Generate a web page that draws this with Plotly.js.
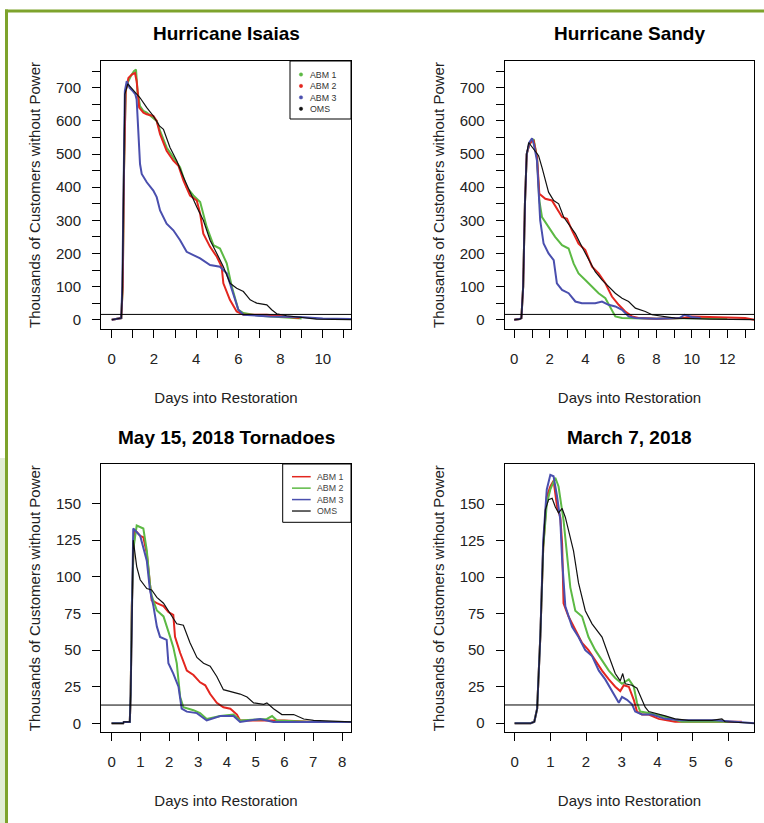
<!DOCTYPE html>
<html><head><meta charset="utf-8">
<script src="https://cdn.plot.ly/plotly-3.0.1.min.js"></script>
<style>html,body{margin:0;padding:0;background:#fff;}#chart{width:764px;height:823px;}</style>
</head><body><div id="chart"></div>
<script>
// ---------- DATA (days into restoration, thousands of customers without power) ----------
// Hurricane Isaias
const isaiasOmsX  = [0,0.3,0.45,0.5,0.55,0.62,0.76,1.0,1.34,1.66,1.97,2.26,2.45,2.76,3.08,3.4,3.71,4.03,4.34,4.66,4.98,5.29,5.61,5.92,6.24,6.56,6.87,7.35,7.58,7.82,8.29,8.93,9.7,11.34];
const isaiasOmsY  = [0,2,5,80,400,680,712,695,670,640,615,585,575,520,480,430,385,340,300,240,200,160,110,95,85,60,50,45,30,18,12,7,2,0];
const isaiasAbm1X = [0,0.3,0.45,0.52,0.58,0.66,0.75,0.9,1.05,1.15,1.22,1.34,1.5,1.66,1.97,2.13,2.29,2.6,2.92,3.24,3.55,3.87,4.19,4.5,4.82,5.13,5.45,5.69,6.0,6.24,7.0,8.1,9.0];
const isaiasAbm1Y = [0,2,5,100,450,690,715,735,750,755,690,645,630,625,610,600,570,520,490,460,400,375,355,280,225,215,170,100,30,20,12,8,4];
const isaiasAbm2X = [0,0.3,0.45,0.52,0.58,0.66,0.79,0.95,1.1,1.18,1.3,1.5,1.66,1.97,2.13,2.29,2.6,2.92,3.16,3.4,3.71,4.03,4.19,4.34,4.66,4.98,5.21,5.29,5.6,5.92,6.24,7.35,8.1,8.9];
const isaiasAbm2Y = [0,2,5,100,450,690,730,740,745,720,640,625,620,615,600,560,510,480,465,420,375,360,320,260,220,190,160,110,60,25,15,15,10,5];
const isaiasAbm3X = [0,0.3,0.45,0.5,0.56,0.62,0.71,0.85,1.0,1.12,1.18,1.25,1.34,1.42,1.66,1.97,2.13,2.29,2.6,2.92,3.24,3.55,3.87,4.19,4.66,5.13,5.45,5.77,6.0,6.24,7.5,8.9,10,11.34];
const isaiasAbm3Y = [0,2,5,100,500,690,720,700,690,680,665,560,470,440,415,390,370,330,290,270,240,205,195,185,165,160,140,80,30,15,10,8,4,2];
// Hurricane Sandy
const sandyOmsX  = [0,0.3,0.4,0.5,0.6,0.7,0.81,0.95,1.09,1.37,1.56,1.75,1.93,2.22,2.5,2.78,3.06,3.44,3.81,4.19,4.56,4.94,5.31,5.69,6.07,6.44,6.82,7.38,7.76,8.32,9.07,11,13.52];
const sandyOmsY  = [0,2,5,100,350,500,535,525,515,495,460,420,385,360,350,310,290,260,220,180,145,120,100,80,65,55,35,25,15,10,5,2,0];
const sandyAbm1X = [0,0.3,0.4,0.5,0.6,0.7,0.85,1.0,1.09,1.28,1.41,1.56,1.93,2.3,2.69,3.06,3.34,3.62,4.0,4.38,4.75,5.13,5.5,5.69,6.07,8,10,12];
const sandyAbm1Y = [0,2,5,100,350,500,530,540,545,490,360,310,280,250,225,215,170,140,120,100,80,65,30,10,5,3,5,3];
const sandyAbm2X = [0,0.3,0.4,0.5,0.6,0.7,0.85,1.0,1.09,1.28,1.41,1.75,2.12,2.4,2.69,2.97,3.25,3.62,4.0,4.38,4.75,5.13,5.5,5.88,6.25,6.63,7.0,8,9.5,10,11,12,13,13.52];
const sandyAbm2Y = [0,2,5,100,350,500,530,540,540,490,380,365,360,335,310,305,270,230,210,160,140,110,70,45,25,10,5,3,5,10,8,6,5,0];
const sandyAbm3X = [0,0.3,0.4,0.5,0.6,0.7,0.85,1.0,1.1,1.28,1.46,1.65,1.93,2.22,2.4,2.69,3.06,3.44,3.81,4.56,4.94,5.31,5.69,6.07,6.44,6.82,8,9.3,9.6,10,10.5];
const sandyAbm3Y = [0,2,5,100,350,500,535,548,530,480,300,230,200,180,110,90,80,55,50,50,55,45,40,30,10,5,3,5,15,8,5];
// May 15, 2018 Tornadoes
const tornOmsX  = [0,0.4,0.42,0.63,0.66,0.7,0.75,0.87,0.99,1.22,1.39,1.57,1.8,2.03,2.26,2.49,2.72,2.96,3.19,3.42,3.65,3.88,4.23,4.46,4.7,4.93,5.28,5.39,5.62,5.91,6.32,6.67,7.01,8.31];
const tornOmsY  = [0,0,1,1,20,80,125,107,98,92,91,86,82,75,68,67,55,45,41,39,32,23,21,20,18,14,13,14,10,6,6,3,2,1];
const tornAbm1X = [0,0.4,0.42,0.63,0.66,0.7,0.76,0.81,0.99,1.1,1.22,1.33,1.39,1.57,1.8,1.97,2.14,2.2,2.38,2.61,2.84,3.07,3.25,3.42,3.65,3.88,4.12,4.35,4.46,5,6,7,8.31];
const tornAbm1Y = [0,0,1,1,20,80,120,132,128,127,116,95,84,82,80,76,74,59,48,36,33,28,26,20,14,11,10,6,2,2,2,1,1];
const tornAbm2X = [0,0.4,0.42,0.63,0.66,0.7,0.76,0.87,1.1,1.22,1.33,1.39,1.57,1.8,2.03,2.14,2.26,2.38,2.49,2.84,3.07,3.3,3.77,4.23,4.46,5.39,5.57,5.74,7,8.31];
const tornAbm2Y = [0,0,1,1,20,80,120,135,133,118,95,87,77,73,59,52,41,18,11,9,7,3,5,6,2,3,5,2,1,1];
const tornAbm3X = [0,0.4,0.42,0.63,0.66,0.7,0.75,0.99,1.22,1.33,1.45,1.57,1.68,1.91,1.97,2.14,2.32,2.43,2.61,2.96,3.3,3.77,4.23,4.46,5.16,5.62,8.31];
const tornAbm3Y = [0,0,1,1,20,80,133,128,111,91,80,66,59,57,41,34,25,10,8,7,2,5,5,1,3,1,1];
// March 7, 2018
const marchOmsX  = [0,0.45,0.55,0.63,0.72,0.8,0.86,0.95,1.05,1.14,1.23,1.33,1.42,1.51,1.65,1.79,1.98,2.17,2.36,2.45,2.64,2.82,2.96,3.03,3.1,3.29,3.43,3.57,3.66,3.76,3.94,4.22,4.5,4.88,5.53,5.81,5.9,6.72];
const marchOmsY  = [0,0,1,10,60,120,146,153,154,148,144,147,141,132,118,96,77,68,62,59,46,34,29,34,27,26,24,16,11,8,7,5,3,2,2,3,1,0];
const marchAbm1X = [0,0.45,0.55,0.63,0.72,0.8,0.9,1.0,1.09,1.19,1.28,1.33,1.37,1.51,1.7,1.89,2.07,2.26,2.45,2.64,2.82,2.96,3.06,3.2,3.34,3.43,3.57,3.76,4.04,4.5,6.37];
const marchAbm1Y = [0,0,1,10,60,120,155,162,166,148,141,123,82,73,64,55,50,43,36,30,25,22,26,25,16,8,6,6,3,1,1];
const marchAbm2X = [0,0.45,0.55,0.63,0.72,0.8,0.9,1.0,1.14,1.23,1.37,1.47,1.56,1.7,1.89,2.07,2.26,2.45,2.64,2.82,3.01,3.2,3.34,3.43,3.52,3.76,4.13,4.69,6];
const marchAbm2Y = [0,0,1,10,60,120,150,160,168,162,139,116,93,77,73,59,50,43,36,31,27,30,25,14,8,7,5,1,1];
const marchAbm3X = [0,0.45,0.55,0.63,0.72,0.8,0.9,1.0,1.09,1.19,1.28,1.33,1.42,1.61,1.79,1.98,2.17,2.36,2.54,2.73,2.92,3.01,3.15,3.29,3.38,3.57,3.85,4.22,4.69,5.63,6.72];
const marchAbm3Y = [0,0,1,10,60,125,160,170,169,155,139,112,80,66,59,50,46,36,30,22,14,18,16,13,8,6,6,3,2,2,0];

// Panel titles, threshold lines, tick labels
const panelTitles = ["Hurricane Isaias", "Hurricane Sandy", "May 15, 2018 Tornadoes", "March 7, 2018"];
const thresholds = [16, 16, 12.5, 12.5];
const seriesNames = ["ABM 1", "ABM 2", "ABM 3", "OMS"];
const hurricaneYTicks = [0,50,100,150,200,250,300,350,400,450,500,550,600,650,700,750];
const hurricaneYLabels = ["0","","100","","200","","300","","400","","500","","600","","700",""];
const isaiasXTicks = [0,1,2,3,4,5,6,7,8,9,10,11];
const isaiasXLabels = ["0","","2","","4","","6","","8","","10",""];
const sandyXTicks = [0,1,2,3,4,5,6,7,8,9,10,11,12,13];
const sandyXLabels = ["0","","2","","4","","6","","8","","10","","12",""];
const smallYTicks = [0,25,50,75,100,125,150];
const tornXTicks = [0,1,2,3,4,5,6,7,8];
const marchXTicks = [0,1,2,3,4,5,6];

// ---------- STYLE ----------
const W = 764, H = 823;
const FONT = "Liberation Sans, Arial, Helvetica, sans-serif";
const GREEN = "#5cb944", RED = "#e3261f", BLUE = "#4a4fae", BLACK = "#111111";
const px = v => v / W, py = v => 1 - v / H;

const panelBoxes = [
  {x0:101, x1:351, y0:61, y1:329},
  {x0:504.7, x1:754.3, y0:61, y1:329},
  {x0:101, x1:351, y0:464, y1:732.3},
  {x0:504.7, x1:754.3, y0:464, y1:732.3}
];
const xRanges = [[-0.51, 11.34], [-0.54, 13.52], [-0.37, 8.31], [-0.28, 6.72]];
const yRanges = [[-28, 781], [-28, 781], [-6.1, 177], [-6.2, 177.4]];

const panelSeries = [
  [[isaiasAbm1X, isaiasAbm1Y, GREEN], [isaiasAbm2X, isaiasAbm2Y, RED], [isaiasAbm3X, isaiasAbm3Y, BLUE], [isaiasOmsX, isaiasOmsY, BLACK]],
  [[sandyAbm1X, sandyAbm1Y, GREEN], [sandyAbm2X, sandyAbm2Y, RED], [sandyAbm3X, sandyAbm3Y, BLUE], [sandyOmsX, sandyOmsY, BLACK]],
  [[tornAbm1X, tornAbm1Y, RED], [tornAbm2X, tornAbm2Y, GREEN], [tornAbm3X, tornAbm3Y, BLUE], [tornOmsX, tornOmsY, BLACK]],
  [[marchAbm1X, marchAbm1Y, RED], [marchAbm2X, marchAbm2Y, GREEN], [marchAbm3X, marchAbm3Y, BLUE], [marchOmsX, marchOmsY, BLACK]]
];
const xTickSets = [[isaiasXTicks, isaiasXLabels], [sandyXTicks, sandyXLabels], [tornXTicks, tornXTicks.map(String)], [marchXTicks, marchXTicks.map(String)]];
const yTickSets = [[hurricaneYTicks, hurricaneYLabels], [hurricaneYTicks, hurricaneYLabels], [smallYTicks, smallYTicks.map(String)], [smallYTicks, smallYTicks.map(String)]];

const traces = [];
const layout = {
  width: W, height: H,
  margin: {l:0, r:0, t:0, b:0},
  paper_bgcolor: "#ffffff", plot_bgcolor: "#ffffff",
  showlegend: false,
  font: {family: FONT, color: "#222"},
  shapes: [], annotations: []
};

panelBoxes.forEach((b, i) => {
  const n = i + 1;
  const xa = "xaxis" + (n === 1 ? "" : n), ya = "yaxis" + (n === 1 ? "" : n);
  const xr = "x" + (n === 1 ? "" : n), yr = "y" + (n === 1 ? "" : n);
  const common = {
    showline: true, linecolor: "#000", linewidth: 1, mirror: true,
    ticks: "outside", ticklen: 8, tickcolor: "#000", tickwidth: 1,
    showgrid: false, zeroline: false, fixedrange: true,
    tickfont: {family: FONT, size: 15, color: "#222"}
  };
  layout[xa] = Object.assign({}, common, {
    domain: [px(b.x0), px(b.x1)], range: xRanges[i], anchor: yr,
    tickmode: "array", tickvals: xTickSets[i][0], ticktext: xTickSets[i][1],
    ticklabelstandoff: 8,
    title: {text: "Days into Restoration", font: {family: FONT, size: 15, color: "#222"}, standoff: 26}
  });
  layout[ya] = Object.assign({}, common, {
    domain: [py(b.y1), py(b.y0)], range: yRanges[i], anchor: xr,
    tickmode: "array", tickvals: yTickSets[i][0], ticktext: yTickSets[i][1],
    ticklabelstandoff: 8,
    title: {text: "Thousands of Customers without Power", font: {family: FONT, size: 15, color: "#222"}, standoff: 11}
  });
  panelSeries[i].forEach((s, k) => {
    traces.push({
      type: "scatter", mode: "lines", x: s[0], y: s[1], xaxis: xr, yaxis: yr,
      name: seriesNames[k],
      line: {color: s[2], width: k === 3 ? 1.2 : 2}
    });
  });
  // threshold line
  layout.shapes.push({type: "line", xref: xr + " domain", x0: 0, x1: 1, yref: yr, y0: thresholds[i], y1: thresholds[i], line: {color: "#000", width: 1}});
  // panel title
  layout.annotations.push({
    text: "<b>" + panelTitles[i] + "</b>", xref: "paper", yref: "paper",
    x: px((b.x0 + b.x1) / 2), y: py(b.y0 - 27), xanchor: "center", yanchor: "middle",
    showarrow: false, font: {family: FONT, size: 19, color: "#000"}
  });
});

// Legend panel 1 (point symbols)
(function(){
  const L = {x0:290, x1:351, y0:61, y1:119};
  const fs = 8.8, gap = fs * 1.3, y0 = 74.5;
  layout.shapes.push({type:"rect", xref:"paper", yref:"paper", x0:px(L.x0), x1:px(L.x1), y0:py(L.y1), y1:py(L.y0), line:{color:"#000", width:1}, fillcolor:"#fff", layer:"above"});
  const cols = [GREEN, RED, BLUE, BLACK];
  cols.forEach((c, k) => {
    const y = y0 + k * gap;
    layout.shapes.push({type:"circle", xref:"paper", yref:"paper", x0:px(299.3), x1:px(302.7), y0:py(y+1.7), y1:py(y-1.7), fillcolor:c, line:{color:c, width:0.5}});
  });
  layout.annotations.push({text: seriesNames.join("<br>"), xref:"paper", yref:"paper", x:px(309), y:py(y0 - gap/2), xanchor:"left", yanchor:"top", align:"left", showarrow:false, borderpad:0, font:{family:FONT, size:fs, color:"#333"}});
})();
// Legend panel 3 (line symbols)
(function(){
  const L = {x0:282.7, x1:351, y0:464, y1:522.3};
  const fs = 8.8, gap = fs * 1.3, y0 = 476.7;
  layout.shapes.push({type:"rect", xref:"paper", yref:"paper", x0:px(L.x0), x1:px(L.x1), y0:py(L.y1), y1:py(L.y0), line:{color:"#000", width:1}, fillcolor:"#fff", layer:"above"});
  const cols = [RED, GREEN, BLUE, "#333"];
  cols.forEach((c, k) => {
    const y = y0 + k * gap;
    layout.shapes.push({type:"line", xref:"paper", yref:"paper", x0:px(292), x1:px(310.7), y0:py(y), y1:py(y), line:{color:c, width:1.5}});
  });
  layout.annotations.push({text: seriesNames.join("<br>"), xref:"paper", yref:"paper", x:px(315.5), y:py(y0 - gap/2), xanchor:"left", yanchor:"top", align:"left", showarrow:false, borderpad:0, font:{family:FONT, size:fs, color:"#444"}});
})();

// page frame decoration
layout.shapes.push({type:"rect", xref:"paper", yref:"paper", x0:0, x1:px(5), y0:0, y1:py(458), fillcolor:"#e2edd5", line:{width:0}, layer:"below"});
layout.shapes.push({type:"line", xref:"paper", yref:"paper", x0:px(5), x1:1, y0:py(11), y1:py(11), line:{color:"#7ea32c", width:3}});
layout.shapes.push({type:"line", xref:"paper", yref:"paper", x0:px(6.5), x1:px(6.5), y0:py(9.5), y1:0, line:{color:"#7ea32c", width:3}});

Plotly.newPlot("chart", traces, layout, {staticPlot: true, displayModeBar: false});
</script>
</body></html>
